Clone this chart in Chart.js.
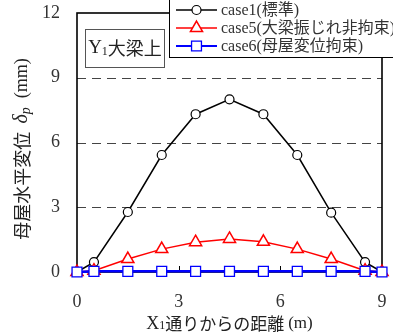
<!DOCTYPE html>
<html>
<head>
<meta charset="utf-8">
<script src="https://cdn.jsdelivr.net/npm/chart.js@4/dist/chart.umd.min.js"></script>
<style>
  html, body { margin: 0; padding: 0; background: #fff; }
  #wrap { position: relative; width: 393px; height: 336px; }
</style>
</head>
<body>
<div id="wrap"><canvas id="c" width="393" height="336"></canvas></div>
<script>
// Distance along the X1 line (m)
const distances = [0, 0.5, 1.5, 2.5, 3.5, 4.5, 5.5, 6.5, 7.5, 8.5, 9];
// Horizontal displacement of the purlins δp (mm)
const case1 = [0, 0.46, 2.78, 5.42, 7.31, 8.0, 7.31, 5.42, 2.75, 0.46, 0];
const case5 = [0, 0.06, 0.6, 1.06, 1.38, 1.53, 1.4, 1.06, 0.6, 0.06, 0];
const case6 = [0, 0.03, 0.03, 0.03, 0.03, 0.03, 0.03, 0.03, 0.03, 0.03, 0];
const seriesNames = ['case1(標準)', 'case5(大梁振じれ非拘束)', 'case6(母屋変位拘束)'];
const xTicks = [0, 3, 6, 9];
const yTicks = [0, 3, 6, 9, 12];

const SERIF = "'Liberation Serif', 'Noto Sans CJK JP', serif";
const JP = "'Noto Sans CJK JP', 'Liberation Serif', serif";

function pts(ys) { return distances.map((x, i) => ({ x: x, y: ys[i] })); }

const datasets = [
  { label: seriesNames[2], data: pts(case6), borderColor: '#0000ff', backgroundColor: '#ffffff',
    borderWidth: 2.5, pointStyle: 'rect', pointRadius: 7, pointBorderWidth: 1.3,
    pointBorderColor: '#0000ff', pointBackgroundColor: '#ffffff' },
  { label: seriesNames[1], data: pts(case5), borderColor: '#ff0000', backgroundColor: '#ffffff',
    borderWidth: 1.5, pointStyle: 'triangle', pointRadius: 7, pointBorderWidth: 1.5,
    pointBorderColor: '#ff0000', pointBackgroundColor: '#ffffff' },
  { label: seriesNames[0], data: pts(case1), borderColor: '#000000', backgroundColor: '#ffffff',
    borderWidth: 1.5, pointStyle: 'circle', pointRadius: 4.5, pointBorderWidth: 1.2,
    pointBorderColor: '#000000', pointBackgroundColor: '#ffffff' }
];

// Frame, dashed gridlines, inner tick marks, titles, note box and legend
const decor = {
  id: 'decor',
  beforeDatasetsDraw(chart) {
    const { ctx, chartArea: a, scales } = chart;
    ctx.save();
    ctx.strokeStyle = '#444';
    ctx.lineWidth = 1;
    ctx.setLineDash([9, 6]);
    [3, 6, 9].forEach(v => {
      const y = Math.round(scales.y.getPixelForValue(v)) + 0.5;
      ctx.beginPath(); ctx.moveTo(a.left, y); ctx.lineTo(a.right, y); ctx.stroke();
    });
    ctx.setLineDash([]);
    ctx.strokeStyle = '#000';
    ctx.lineWidth = 1;
    [3, 6].forEach(v => {
      const x = Math.round(scales.x.getPixelForValue(v)) + 0.5;
      ctx.beginPath(); ctx.moveTo(x, a.bottom); ctx.lineTo(x, a.bottom - 6); ctx.stroke();
    });
    ctx.lineWidth = 1.6;
    ctx.strokeRect(a.left, a.top, a.right - a.left, a.bottom - a.top);
    ctx.restore();
  },
  afterDraw(chart) {
    const { ctx, chartArea: a } = chart;
    ctx.save();
    ctx.fillStyle = '#222';

    // y-axis title (rotated)
    const yParts = [
      { t: '母屋水平変位  ', f: '18px ' + JP, dy: 0 },
      { t: 'δ', f: 'italic 20px ' + SERIF, dy: 0 },
      { t: 'p', f: 'italic 14px ' + SERIF, dy: 4 },
      { t: '  (mm)', f: '18px ' + SERIF, dy: 0 }
    ];
    drawParts(ctx, yParts, 22, 149, -Math.PI / 2);

    // x-axis title
    const xParts = [
      { t: 'X', f: '18px ' + SERIF, dy: 0 },
      { t: '1', f: '12px ' + SERIF, dy: 2 },
      { t: '通りからの距離 ', f: '17px ' + JP, dy: 0 },
      { t: '(m)', f: '17px ' + SERIF, dy: 0 }
    ];
    drawParts(ctx, xParts, (a.left + a.right) / 2, 324, 0);

    // note box
    ctx.strokeStyle = '#555';
    ctx.lineWidth = 1;
    ctx.fillStyle = '#fff';
    ctx.fillRect(85.5, 29.5, 79, 38);
    ctx.strokeRect(85.5, 29.5, 79, 38);
    ctx.fillStyle = '#222';
    const nParts = [
      { t: 'Y', f: '19px ' + SERIF, dy: 0 },
      { t: '1', f: '12px ' + SERIF, dy: 3 },
      { t: '大梁上', f: '18px ' + JP, dy: 0 }
    ];
    drawParts(ctx, nParts, 125, 48.5, 0);

    // legend
    ctx.fillStyle = '#fff';
    ctx.fillRect(169.5, -2, 240, 59.5);
    ctx.strokeStyle = '#000';
    ctx.lineWidth = 1;
    ctx.strokeRect(169.5, -2, 240, 59.5);
    const order = [2, 1, 0];
    order.forEach((di, row) => {
      const ds = chart.data.datasets[di];
      const y = 10 + row * 18;
      ctx.strokeStyle = ds.borderColor;
      ctx.lineWidth = di === 0 ? 2 : 1.5;
      ctx.beginPath(); ctx.moveTo(176, y); ctx.lineTo(217, y); ctx.stroke();
      ctx.lineWidth = ds.pointBorderWidth;
      ctx.fillStyle = '#fff';
      Chart.helpers.drawPoint(ctx, { pointStyle: ds.pointStyle, radius: ds.pointRadius, borderWidth: ds.pointBorderWidth, rotation: 0 }, 196.5, y);
      ctx.fillStyle = '#333';
      ctx.font = '16px ' + SERIF;
      ctx.textAlign = 'left';
      ctx.textBaseline = 'middle';
      ctx.fillText(ds.label, 221, y + 1);
    });
    ctx.restore();
  }
};

function drawParts(ctx, parts, cx, cy, rot) {
  ctx.save();
  ctx.translate(cx, cy);
  ctx.rotate(rot);
  ctx.textAlign = 'left';
  ctx.textBaseline = 'middle';
  let w = 0;
  parts.forEach(p => { ctx.font = p.f; w += ctx.measureText(p.t).width; });
  let x = -w / 2;
  parts.forEach(p => {
    ctx.font = p.f;
    ctx.fillText(p.t, x, p.dy);
    x += ctx.measureText(p.t).width;
  });
  ctx.restore();
}

new Chart(document.getElementById('c'), {
  type: 'scatter',
  data: { datasets: datasets },
  options: {
    responsive: false,
    animation: false,
    events: [],
    layout: { padding: { left: 0, top: 13, right: 0, bottom: 0 } },
    plugins: { legend: { display: false }, tooltip: { enabled: false } },
    elements: { line: { tension: 0 } },
    datasets: { scatter: { showLine: true, clip: false } },
    scales: {
      x: {
        type: 'linear', min: 0, max: 9,
        afterBuildTicks(s) { s.ticks = xTicks.map(v => ({ value: v })); },
        afterFit(s) { s.height = 64; s.paddingRight = 11; s.paddingLeft = 0; },
        grid: { display: false, drawTicks: false },
        border: { display: false },
        ticks: { padding: 19, color: '#333', font: { family: SERIF, size: 18 } }
      },
      y: {
        type: 'linear', min: 0, max: 12,
        afterBuildTicks(s) { s.ticks = yTicks.map(v => ({ value: v })); },
        afterFit(s) { s.width = 77; s.paddingTop = 13; s.paddingBottom = 0; },
        grid: { display: false, drawTicks: false },
        border: { display: false },
        ticks: { padding: 17, color: '#333', font: { family: SERIF, size: 18 } }
      }
    }
  },
  plugins: [decor]
});
</script>
</body>
</html>
